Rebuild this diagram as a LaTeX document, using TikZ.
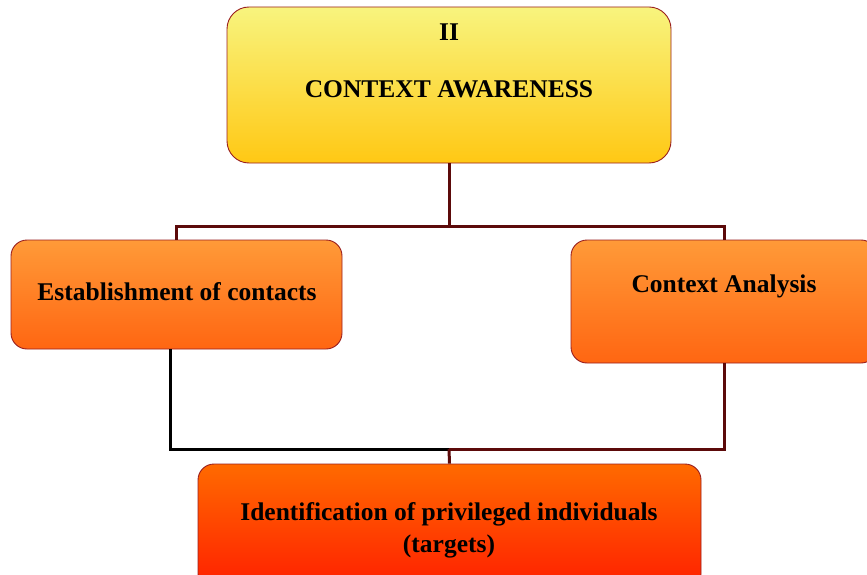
\documentclass[tikz,border=0pt]{standalone}
\usepackage{fontspec}
\setmainfont{Liberation Serif}
\begin{document}
\begin{tikzpicture}[x=1pt,y=-1pt,
  box/.style={draw=boxedge, line width=0.9pt, rounded corners=20pt, inner sep=0pt},
  lbl/.style={font=\bfseries\fontsize{25.5}{30}\selectfont, align=center, text=black, inner sep=0pt},
  conn/.style={line width=3pt, draw=linemaroon}]
\definecolor{boxedge}{HTML}{9A1F1F}
\definecolor{linemaroon}{HTML}{5C0A0A}
\definecolor{ytop}{HTML}{F8F47E}
\definecolor{ybot}{HTML}{FFC814}
\definecolor{otop}{HTML}{FF9A38}
\definecolor{obot}{HTML}{FF6612}
\definecolor{rtop}{HTML}{FF6A00}
\definecolor{rbot}{HTML}{FF1E00}
\clip (0,0) rectangle (867,575);
% boxes
\node[box, rounded corners=22pt, top color=ytop, bottom color=ybot, minimum width=444pt, minimum height=156pt] (top) at (449,85) {};
\node[box, rounded corners=16pt, top color=otop, bottom color=obot, minimum width=331pt, minimum height=109pt] (left) at (176.5,294.5) {};
\node[box, rounded corners=16pt, top color=otop, bottom color=obot, minimum width=306pt, minimum height=123pt] (right) at (724,301.5) {};
\node[box, rounded corners=16pt, top color=rtop, bottom color=rbot, minimum width=503pt, minimum height=126pt] (bottom) at (449.5,527) {};
% labels
\node[lbl] (t1) at (449,32) {II};
\node[lbl] (t2) at (449,89) {CONTEXT AWARENESS};
\node[lbl] (l1) at (177,292) {Establishment of contacts};
\node[lbl] (r1) at (724,286) {Context Analysis};
\node[lbl] (b1) at (449,514) {Identification of privileged individuals};
\node[lbl] (b2) at (449,546) {(targets)};
% connectors
\coordinate (tj) at (449,226);
\coordinate (bj) at (449,449);
\draw[conn] (top.south) -- (tj);
\draw[conn] (tj) -| (left.north);
\draw[conn] (tj) -| (right.north);
\draw[conn, draw=black] ([xshift=-6pt]left.south) |- (bj);
\draw[conn] (right.south) |- (bj);
\draw[conn] (bj) -- (bottom.north);
\end{tikzpicture}
\end{document}
